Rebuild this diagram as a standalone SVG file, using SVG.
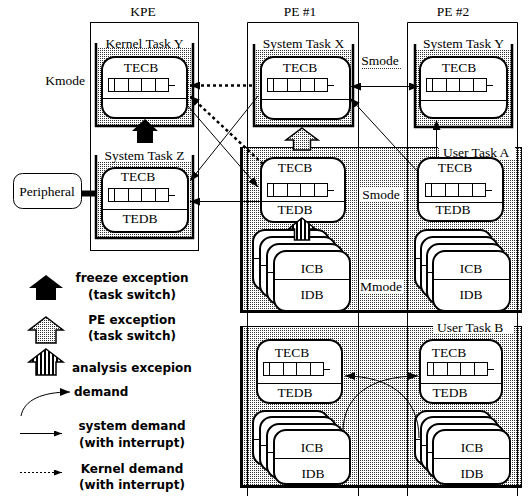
<svg xmlns="http://www.w3.org/2000/svg" width="530" height="498" viewBox="0 0 530 498">
<defs>
<pattern id="dots" patternUnits="userSpaceOnUse" width="2" height="2">
<rect width="2" height="2" fill="#fff"/>
<rect width="1" height="1" fill="#333"/>
</pattern>
<pattern id="stripes" patternUnits="userSpaceOnUse" width="4" height="4">
<rect width="4" height="4" fill="#fff"/>
<rect width="2" height="4" fill="#000"/>
</pattern>
<marker id="ah" viewBox="0 0 10 8" refX="10" refY="4" markerWidth="10" markerHeight="8" markerUnits="userSpaceOnUse" orient="auto-start-reverse">
<path d="M0,0 L10,4 L0,8 z" fill="#000"/>
</marker>
<marker id="ahs" viewBox="0 0 8 6" refX="8" refY="3" markerWidth="8" markerHeight="6" markerUnits="userSpaceOnUse" orient="auto">
<path d="M0,0 L8,3 L0,6 z" fill="#000"/>
</marker>
<g id="q">
<path d="M0,0.5 H60 M0,13.5 H60 M0.5,0 V14 M6.5,0 V14 M20.5,0 V14 M33.5,0 V14 M47.5,0 V14 M60.5,0 V14 M60,7.5 H67" fill="none" stroke="#000" stroke-width="1"/>
</g>
</defs>
<style>
.t{font-family:"Liberation Serif","Times New Roman",serif;font-size:13.5px;fill:#000}
.c{text-anchor:middle}
.l{font-family:"DejaVu Sans","Liberation Sans",sans-serif;font-weight:bold;font-size:12px;fill:#000}
.box{fill:#fff;stroke:#000;stroke-width:2}
.wall{fill:none;stroke:#000;stroke-width:2.5}
.ln{fill:none;stroke:#000;stroke-width:1}
.con{fill:none;stroke:#000;stroke-width:1}
.kd{fill:none;stroke:#000;stroke-width:2.5;stroke-dasharray:3 3}
.st{fill:url(#dots)}
.blk{fill:#000}
.pe{fill:url(#dots);stroke:#000;stroke-width:1.5}
.an{fill:url(#stripes);stroke:#000;stroke-width:1.5}
</style>

<!-- user task regions -->
<g id="userTaskA">
<rect x="240" y="147" width="282" height="166" class="st"/>
</g>
<g id="userTaskB">
<rect x="240" y="326" width="282" height="162" class="st"/>
</g>

<!-- processing element frames -->
<g id="KPE">
<rect x="90.5" y="22.5" width="108" height="228" class="ln"/>
<text x="143" y="16" class="t c">KPE</text>
</g>
<g id="PE1">
<path d="M247.5,496 V22.5 H358.5 V496" class="ln"/>
<text x="300" y="16" class="t c">PE #1</text>
</g>
<g id="PE2">
<path d="M407.5,496 V22.5 H517.5 V496" class="ln"/>
<text x="453" y="16" class="t c">PE #2</text>
</g>
<text x="85" y="85" class="t" text-anchor="end">Kmode</text>

<!-- region borders and titles -->
<g id="userTaskA-border">
<path d="M240,147.5 H438 M513,147.5 H522 M521.5,147 V313" class="ln" stroke-width="1.5"/>
<path d="M241.5,147 V313 M240,311.5 H522" fill="none" stroke="#000" stroke-width="3"/>
<rect x="439" y="145" width="76" height="14" fill="#fff"/>
<text x="443" y="157" class="t">User Task A</text>
</g>
<g id="userTaskB-border">
<path d="M240,326.5 H433 M513,326.5 H522 M521.5,326 V488" class="ln" stroke-width="1.5"/>
<path d="M241.5,326 V488 M240,486.5 H522" fill="none" stroke="#000" stroke-width="3"/>
<rect x="434" y="320" width="80" height="14" fill="#fff"/>
<text x="437" y="332" class="t">User Task B</text>
</g>

<!-- Kernel Task Y -->
<g id="kernelTaskY">
<rect x="96" y="48" width="97" height="78" class="st"/>
<path d="M96,43 V126 H193 V43" class="wall"/>
<text x="144.5" y="48" class="t c">Kernel Task Y</text>
<rect x="102" y="57" width="85" height="61" rx="13" class="box"/>
<path d="M102,98.5 H187" class="ln"/>
<text x="141" y="72" class="t c">TECB</text>
<use href="#q" x="108" y="78"/>
</g>

<!-- System Task Z -->
<g id="systemTaskZ">
<rect x="96" y="161" width="97" height="77" class="st"/>
<path d="M96,155 V238 H193 V155" class="wall"/>
<text x="144.5" y="160" class="t c">System Task Z</text>
<rect x="102" y="168" width="86" height="64" rx="13" class="box"/>
<path d="M102,209.5 H188" class="ln"/>
<text x="138" y="181" class="t c">TECB</text>
<use href="#q" x="108" y="188"/>
<text x="140" y="223" class="t c">TEDB</text>
</g>

<!-- Peripheral -->
<g id="peripheral">
<rect x="13.5" y="173.5" width="68" height="35" rx="9" class="ln"/>
<text x="47" y="196" class="t c">Peripheral</text>
<path d="M81,193.5 H97" stroke="#000" stroke-width="6"/>
</g>

<!-- System Task X -->
<g id="systemTaskX">
<rect x="254" y="49" width="99" height="77" class="st"/>
<path d="M254,44 V126 H353 V44" class="wall"/>
<text x="303.5" y="48" class="t c">System Task X</text>
<rect x="261" y="57" width="89" height="62" rx="13" class="box"/>
<path d="M261,99.5 H350" class="ln"/>
<text x="300" y="72" class="t c">TECB</text>
<use href="#q" x="267" y="78"/>
</g>

<!-- System Task Y -->
<g id="systemTaskY">
<rect x="415" y="49" width="97" height="78" class="st"/>
<path d="M415,44 V127 H512 V44" class="wall"/>
<text x="463.5" y="48" class="t c">System Task Y</text>
<rect x="420" y="57" width="87" height="61" rx="13" class="box"/>
<path d="M420,100.5 H507" class="ln"/>
<text x="459" y="72" class="t c">TECB</text>
<use href="#q" x="426" y="78"/>
</g>

<!-- Smode / Mmode labels -->
<g id="smodeTop">
<text x="380" y="65" class="t c">Smode</text>
<rect x="361" y="67" width="40" height="3" class="st"/>
</g>
<g id="smodeA">
<rect x="359" y="187" width="44" height="14" fill="#fff"/>
<text x="381" y="199" class="t c">Smode</text>
</g>
<g id="mmodeA">
<rect x="359" y="280" width="44" height="13" fill="#fff"/>
<text x="381" y="291" class="t c">Mmode</text>
</g>

<!-- User Task A, PE#1 -->
<g id="taskA-pe1-tecb">
<rect x="261" y="158" width="84" height="64" rx="13" class="box"/>
<path d="M261,201.5 H345" class="ln"/>
<text x="295" y="172" class="t c">TECB</text>
<use href="#q" x="267" y="183"/>
<text x="295" y="214" class="t c">TEDB</text>
</g>
<g id="taskA-pe1-icb">
<rect x="253" y="230" width="76" height="60" rx="12" class="box"/>
<path d="M253,258.5 H329" class="ln"/>
<rect x="260" y="237" width="76" height="60" rx="12" class="box"/>
<path d="M260,265.5 H336" class="ln"/>
<rect x="267" y="244" width="76" height="60" rx="12" class="box"/>
<path d="M267,272.5 H343" class="ln"/>
<rect x="274" y="251" width="76" height="60" rx="12" class="box"/>
<path d="M274,279.5 H350" class="ln"/>
<text x="312" y="273" class="t c">ICB</text>
<text x="312" y="299" class="t c">IDB</text>
</g>

<!-- User Task A, PE#2 -->
<g id="taskA-pe2-tecb">
<rect x="418" y="158" width="85" height="63" rx="13" class="box"/>
<path d="M418,202.5 H503" class="ln"/>
<text x="455" y="172" class="t c">TECB</text>
<use href="#q" x="425" y="183"/>
<text x="453" y="214" class="t c">TEDB</text>
</g>
<g id="taskA-pe2-icb">
<rect x="415" y="230" width="77" height="60" rx="12" class="box"/>
<path d="M415,258.5 H492" class="ln"/>
<rect x="421" y="237" width="77" height="60" rx="12" class="box"/>
<path d="M421,265.5 H498" class="ln"/>
<rect x="427" y="244" width="77" height="60" rx="12" class="box"/>
<path d="M427,272.5 H504" class="ln"/>
<rect x="433" y="251" width="77" height="60" rx="12" class="box"/>
<path d="M433,279.5 H510" class="ln"/>
<text x="471" y="273" class="t c">ICB</text>
<text x="471" y="299" class="t c">IDB</text>
</g>

<!-- User Task B, PE#1 -->
<g id="taskB-pe1-tecb">
<rect x="257" y="340" width="85" height="63" rx="13" class="box"/>
<path d="M257,383.5 H342" class="ln"/>
<text x="292" y="357" class="t c">TECB</text>
<use href="#q" x="263" y="362"/>
<text x="295" y="397" class="t c">TEDB</text>
</g>
<g id="taskB-pe1-icb">
<rect x="253" y="411" width="76" height="54" rx="12" class="box"/>
<path d="M253,439.5 H329" class="ln"/>
<rect x="260" y="417" width="76" height="54" rx="12" class="box"/>
<path d="M260,445.5 H336" class="ln"/>
<rect x="267" y="424" width="76" height="54" rx="12" class="box"/>
<path d="M267,452.5 H343" class="ln"/>
<rect x="274" y="430" width="76" height="54" rx="12" class="box"/>
<path d="M274,458.5 H350" class="ln"/>
<text x="312" y="452" class="t c">ICB</text>
<text x="313" y="478" class="t c">IDB</text>
</g>

<!-- User Task B, PE#2 -->
<g id="taskB-pe2-tecb">
<rect x="420" y="340" width="82" height="63" rx="13" class="box"/>
<path d="M420,383.5 H502" class="ln"/>
<text x="449" y="357" class="t c">TECB</text>
<use href="#q" x="427" y="362"/>
<text x="450" y="397" class="t c">TEDB</text>
</g>
<g id="taskB-pe2-icb">
<rect x="415" y="411" width="77" height="54" rx="12" class="box"/>
<path d="M415,439.5 H492" class="ln"/>
<rect x="421" y="417" width="77" height="54" rx="12" class="box"/>
<path d="M421,445.5 H498" class="ln"/>
<rect x="427" y="424" width="77" height="54" rx="12" class="box"/>
<path d="M427,452.5 H504" class="ln"/>
<rect x="433" y="430" width="77" height="54" rx="12" class="box"/>
<path d="M433,458.5 H510" class="ln"/>
<text x="472" y="452" class="t c">ICB</text>
<text x="472" y="478" class="t c">IDB</text>
</g>

<!-- block arrows (exceptions) -->
<g id="exceptions">
<path d="M145,119 L158,131 L153,131 L153,143 L137,143 L137,131 L132,131 Z" class="blk"/>
<path d="M302,128 L318,140 L310.5,140 L310.5,150 L293.5,150 L293.5,140 L286,140 Z" class="pe"/>
<path d="M302,218 L315.5,229 L309.5,229 L309.5,240 L294.5,240 L294.5,229 L288.5,229 Z" class="an"/>
</g>

<!-- connectors -->
<g id="connectors">
<path d="M252,85.5 L190,85.5" class="kd" marker-end="url(#ah)"/>
<path d="M263,164 L190,96" class="kd" marker-end="url(#ah)"/>
<path d="M187,105 L258,187" class="con" marker-end="url(#ah)"/>
<path d="M258,96 L190,181" class="con" marker-end="url(#ah)"/>
<path d="M261,201.5 L190,201.5" class="con" marker-end="url(#ah)"/>
<path d="M351,86.5 L419,86.5" class="con" marker-start="url(#ah)" marker-end="url(#ah)"/>
<path d="M418,172 L350,98" class="con" marker-end="url(#ah)"/>
<path d="M436.5,158 V120" class="con" marker-end="url(#ah)"/>
<path d="M343,432 C343,395 372,376 418,376" class="con" stroke-width="1.5" marker-end="url(#ah)"/>
<path d="M419,438 C419,398 390,376 345,376" class="con" stroke-width="1.5" marker-end="url(#ah)"/>
</g>

<!-- legend -->
<g id="legend">
<path d="M46,275 L63,288 L56,288 L56,300 L36,300 L36,288 L29,288 Z" class="blk"/>
<text x="132" y="282" class="l c">freeze exception</text>
<text x="132" y="299" class="l c">(task switch)</text>
<path d="M46,317 L63,330 L56,330 L56,343 L36,343 L36,330 L29,330 Z" class="pe"/>
<text x="132" y="324" class="l c">PE exception</text>
<text x="132" y="340" class="l c">(task switch)</text>
<path d="M46,349 L63,362 L56,362 L56,375 L36,375 L36,362 L29,362 Z" class="an"/>
<text x="72" y="372" class="l">analysis excepion</text>
<path d="M21,416 C24,400 42,392 70,392" class="con" stroke-width="1.5" marker-end="url(#ah)"/>
<text x="74" y="396" class="l">demand</text>
<path d="M20,433.5 H62" class="con" marker-end="url(#ahs)"/>
<text x="132" y="430" class="l c">system demand</text>
<text x="132" y="447" class="l c">(with interrupt)</text>
<path d="M20,472.5 H62" class="con" stroke-dasharray="2 2" marker-end="url(#ahs)"/>
<text x="132" y="473" class="l c">Kernel demand</text>
<text x="132" y="489" class="l c">(with interrupt)</text>
</g>
</svg>
